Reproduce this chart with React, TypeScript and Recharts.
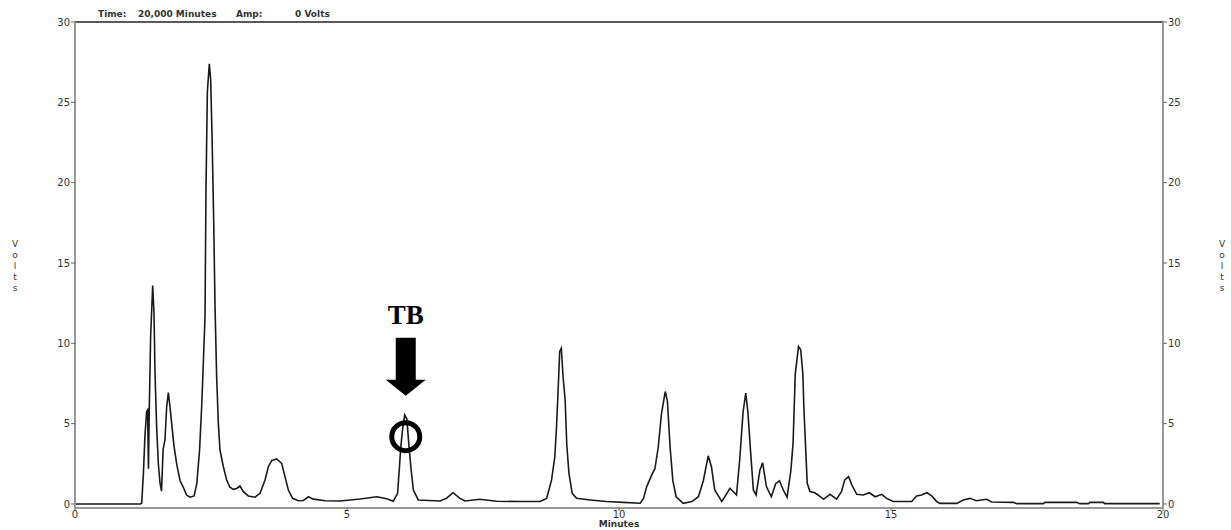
import React from "react";
import {
  Line,
  LineChart,
  ReferenceDot,
  ReferenceLine,
  XAxis,
  YAxis,
} from "recharts";

// retention time (minutes)
const times = [
  0, 1.2, 1.226, 1.256, 1.287, 1.317, 1.335, 1.35, 1.365, 1.39, 1.428, 1.452,
  1.471, 1.501, 1.532, 1.563, 1.59, 1.62, 1.654, 1.685, 1.716, 1.746, 1.777,
  1.82, 1.869, 1.93, 1.991, 2.05, 2.114, 2.19, 2.24, 2.29, 2.33, 2.39, 2.408,
  2.433, 2.469, 2.494, 2.518, 2.549, 2.574, 2.604, 2.635, 2.665, 2.727, 2.788,
  2.849, 2.91, 2.972, 3.033, 3.094, 3.186, 3.309, 3.401, 3.493, 3.554, 3.615,
  3.707, 3.799, 3.86, 3.922, 4.0, 4.105, 4.2, 4.29, 4.38, 4.6, 4.87, 5.24,
  5.55, 5.73, 5.85, 5.93, 5.96, 5.99, 6.02, 6.06, 6.1, 6.14, 6.18, 6.22, 6.31,
  6.71, 6.83, 6.95, 7.07, 7.17, 7.44, 7.75, 8.18, 8.55, 8.67, 8.76, 8.82, 8.85,
  8.88, 8.91, 8.94, 8.97, 9.01, 9.04, 9.08, 9.14, 9.22, 9.47, 9.77, 10.08,
  10.39, 10.45, 10.51, 10.6, 10.66, 10.72, 10.78, 10.85, 10.89, 10.94, 10.99,
  11.05, 11.18, 11.34, 11.46, 11.55, 11.64, 11.7, 11.76, 11.89, 12.04, 12.16,
  12.22, 12.28, 12.33, 12.37, 12.42, 12.47, 12.52, 12.59, 12.64, 12.71, 12.8,
  12.88, 12.95, 13.02, 13.09, 13.16, 13.2, 13.24, 13.3, 13.34, 13.38, 13.4,
  13.43, 13.46, 13.51, 13.6, 13.66, 13.76, 13.88, 14.0, 14.09, 14.15, 14.22,
  14.28, 14.37, 14.49, 14.6, 14.71, 14.83, 14.92, 15.04, 15.38, 15.47, 15.56,
  15.66, 15.75, 15.84, 15.9, 16.21, 16.33, 16.45, 16.57, 16.76, 16.85, 17.25,
  17.31, 17.8, 17.83, 18.41, 18.47, 18.63, 18.66, 18.9, 18.93, 19.94,
];

// detector signal (volts) at each time above
const volts = [
  0, 0, 0.05, 1.8, 4.3, 5.75, 5.85, 2.2, 5.8, 10.4, 13.6, 11.9,
  8.1, 4.8, 2.5, 1.3, 0.8, 3.4, 4.0, 6.05, 6.93, 6.05, 5.0,
  3.6, 2.5, 1.46, 1.04, 0.56, 0.42, 0.5, 1.3, 3.36, 6.16, 11.65, 19.6,
  25.65, 27.4, 26.4, 23.1, 17.7, 12.3, 7.9, 5.0, 3.36, 2.32, 1.49,
  1.04, 0.91, 0.97, 1.12, 0.77, 0.5, 0.42, 0.66, 1.49, 2.32, 2.7,
  2.8, 2.53, 1.7, 0.87, 0.35, 0.2, 0.22, 0.45, 0.3, 0.2, 0.19, 0.31,
  0.45, 0.33, 0.17, 0.66, 2.1, 3.57, 4.6, 5.54, 5.3, 3.57, 2.1, 0.87, 0.25,
  0.19, 0.36, 0.7, 0.36, 0.19, 0.29, 0.17, 0.15, 0.15, 0.35, 1.5, 2.94, 4.7,
  7.0, 9.5, 9.7, 8.0, 6.47, 3.7, 1.9, 0.66, 0.35, 0.25, 0.15, 0.1,
  0.05, 0.35, 1.08, 1.8, 2.2, 3.5, 5.6, 7.0, 6.4, 3.5, 1.45,
  0.45, 0.04, 0.15, 0.45, 1.45, 3.0, 2.3, 0.87, 0.15, 0.98, 0.56,
  2.8, 5.7, 6.9, 5.7, 3.2, 0.87, 0.56, 2.1, 2.57, 1.08, 0.45,
  1.26, 1.45, 0.87, 0.42, 2.1, 3.8, 8.1, 9.8, 9.6, 8.1, 5.85,
  3.57, 1.29, 0.77, 0.7, 0.56, 0.29, 0.6, 0.3, 0.77, 1.5, 1.7,
  1.18, 0.6, 0.56, 0.7, 0.45, 0.6, 0.35, 0.15, 0.15, 0.5, 0.56,
  0.7, 0.5, 0.15, 0.04, 0.04, 0.25, 0.35, 0.2, 0.29, 0.12, 0.1,
  0.02, 0.02, 0.1, 0.1, 0.02, 0.02, 0.1, 0.1, 0.02, 0.02,
];

const xTicks = [0, 5, 10, 15, 20];
const yTicks = [0, 5, 10, 15, 20, 25, 30];
const tbPeak = { t: 6.08, v: 4.19 };

const data = times.map((t, i) => ({ t, v: volts[i] }));

const font = "DejaVu Sans";
const tickStyle = { fontSize: 10, fill: "#333", fontFamily: font };
const axisLine = { stroke: "#999", strokeWidth: 2 };
const tickLine = { stroke: "#666" };

const TbMarker = (props: any) => {
  const { cx, cy } = props;
  if (cx == null || cy == null) return null;
  return (
    <g>
      <circle cx={cx} cy={cy} r={14} fill="none" stroke="#000" strokeWidth={5} />
      <polygon
        fill="#000"
        points={`${cx - 10},${cy - 99} ${cx + 10},${cy - 99} ${cx + 10},${cy - 57} ${cx + 20},${cy - 57} ${cx},${cy - 41} ${cx - 20},${cy - 57} ${cx - 10},${cy - 57}`}
      />
      <text
        x={cx}
        y={cy - 113}
        textAnchor="middle"
        fontFamily="Liberation Serif"
        fontWeight="bold"
        fontSize={27}
        fill="#000"
      >
        TB
      </text>
    </g>
  );
};

const VoltsLabel = ({ x }: { x: number }) => (
  <text x={x} textAnchor="middle" fontSize={9} fill="#333" fontFamily={font}>
    {"Volts".split("").map((ch, i) => (
      <tspan key={i} x={x} y={247 + i * 11}>
        {ch}
      </tspan>
    ))}
  </text>
);

const headerStyle = { fontSize: 9, fontWeight: "bold" as const, fill: "#333", fontFamily: font };

export default function App() {
  return (
    <div style={{ position: "absolute", left: 0, top: 0, width: 1231, height: 530, background: "#fff" }}>
      <LineChart
        width={1231}
        height={530}
        data={data}
        margin={{ top: 22, right: 28, left: 35, bottom: 2 }}
      >
        <XAxis
          dataKey="t"
          type="number"
          domain={[0, 20]}
          ticks={xTicks}
          tick={tickStyle}
          tickSize={3}
          tickMargin={0}
          height={20}
          axisLine={axisLine}
          tickLine={tickLine}
        />
        <YAxis
          yAxisId="left"
          domain={[-0.25, 30]}
          ticks={yTicks}
          tick={tickStyle}
          tickSize={4}
          tickMargin={1}
          width={40}
          axisLine={axisLine}
          tickLine={tickLine}
          allowDataOverflow
        />
        <YAxis
          yAxisId="right"
          orientation="right"
          domain={[-0.25, 30]}
          ticks={yTicks}
          tick={tickStyle}
          tickSize={4}
          tickMargin={1}
          width={40}
          axisLine={axisLine}
          tickLine={tickLine}
          allowDataOverflow
        />
        <ReferenceLine yAxisId="left" y={30} stroke="#222" strokeWidth={1.5} />
        <Line
          yAxisId="left"
          type="linear"
          dataKey="v"
          stroke="#1a1a1a"
          strokeWidth={1.6}
          dot={false}
          isAnimationActive={false}
        />
        <ReferenceDot yAxisId="left" x={tbPeak.t} y={tbPeak.v} r={14} shape={TbMarker} />
        <text x={98} y={17} {...headerStyle}>Time:</text>
        <text x={138} y={17} {...headerStyle}>20,000 Minutes</text>
        <text x={236} y={17} {...headerStyle}>Amp:</text>
        <text x={295} y={17} {...headerStyle}>0 Volts</text>
        <text x={619} y={527} textAnchor="middle" fontSize={9} fontWeight="bold" fill="#333" fontFamily={font}>
          Minutes
        </text>
        <VoltsLabel x={15} />
        <VoltsLabel x={1222} />
      </LineChart>
    </div>
  );
}
